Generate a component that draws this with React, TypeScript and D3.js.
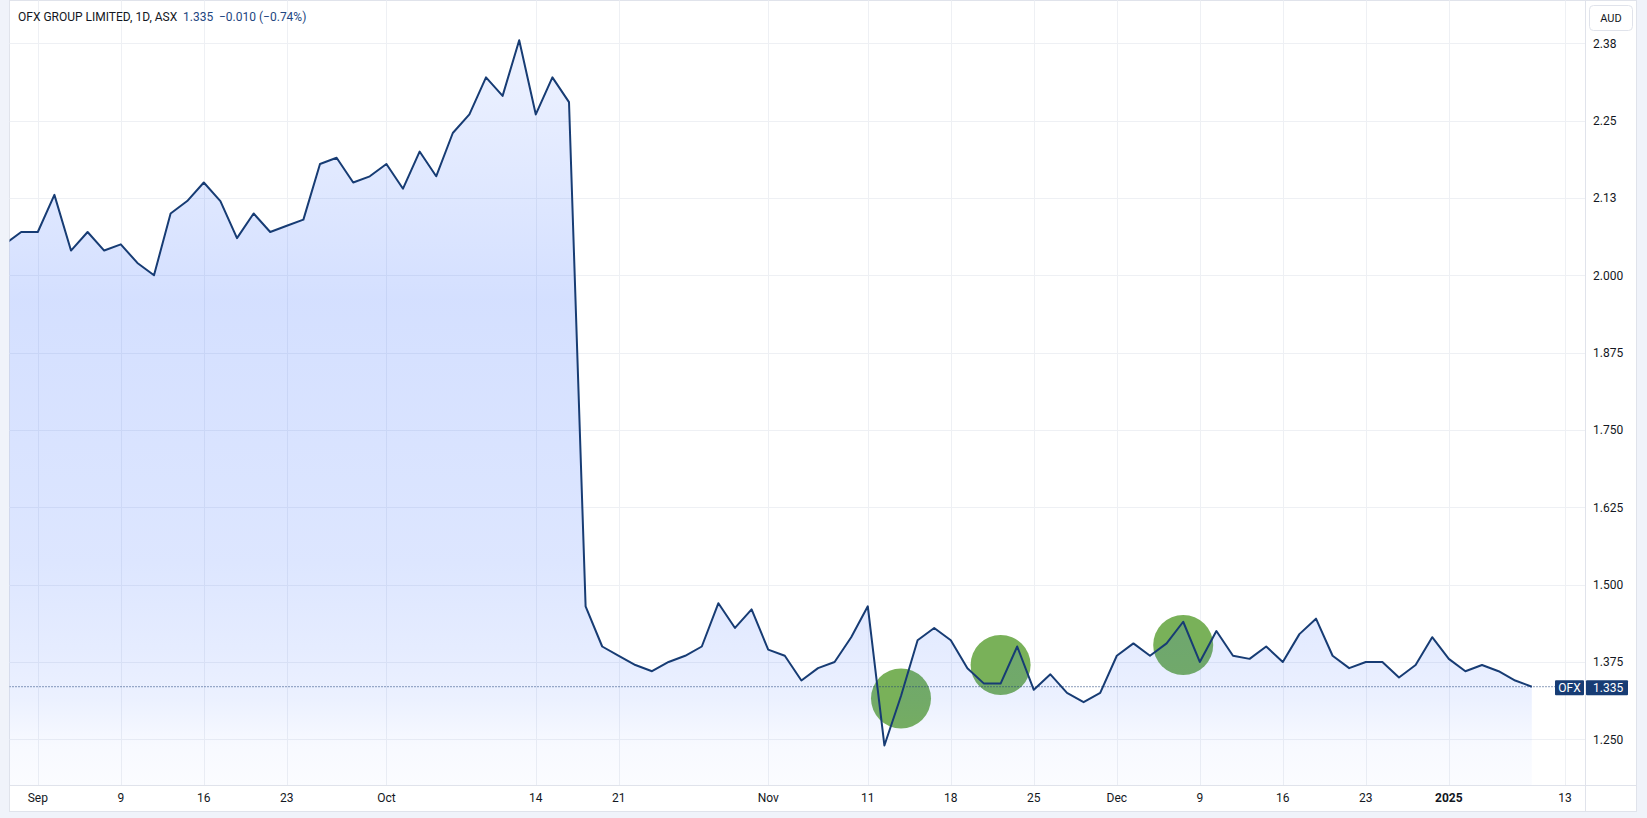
import React from "react";
import * as d3 from "d3";

// ---- data ----
const holidays = ["2024-12-25", "2024-12-26", "2025-01-01"];
const fmt = d3.timeFormat("%Y-%m-%d");
const sessionDates: string[] = d3.timeDay
  .range(new Date(2024, 7, 29), new Date(2025, 0, 18))
  .filter((d) => d.getDay() !== 0 && d.getDay() !== 6)
  .map((d) => fmt(d))
  .filter((s) => !holidays.includes(s));

const prices: number[] = [
  2.05, 2.07, 2.07, 2.13, 2.04, 2.07, 2.04, 2.05, 2.02, 2.0, 2.1, 2.12, 2.15,
  2.12, 2.06, 2.1, 2.07, 2.08, 2.09, 2.18, 2.19, 2.15, 2.16, 2.18, 2.14, 2.2,
  2.16, 2.23, 2.26, 2.32, 2.29, 2.38, 2.26, 2.32, 2.28, 1.465, 1.4, 1.385,
  1.37, 1.36, 1.375, 1.385, 1.4, 1.47, 1.43, 1.46, 1.395, 1.385, 1.345, 1.365,
  1.375, 1.415, 1.465, 1.24, 1.32, 1.41, 1.43, 1.41, 1.365, 1.34, 1.34, 1.4,
  1.33, 1.355, 1.325, 1.31, 1.325, 1.385, 1.405, 1.385, 1.405, 1.44, 1.375,
  1.425, 1.385, 1.38, 1.4, 1.375, 1.42, 1.445, 1.385, 1.365, 1.375, 1.375,
  1.35, 1.37, 1.415, 1.38, 1.36, 1.37, 1.36, 1.345, 1.335,
];

const priceTicks = [2.375, 2.25, 2.125, 2.0, 1.875, 1.75, 1.625, 1.5, 1.375, 1.25];
const priceTickLabels = ["2.38", "2.25", "2.13", "2.000", "1.875", "1.750", "1.625", "1.500", "1.375", "1.250"];

const timeTickDates = [
  "2024-09-02", "2024-09-09", "2024-09-16", "2024-09-23", "2024-10-01",
  "2024-10-14", "2024-10-21", "2024-11-01", "2024-11-11", "2024-11-18",
  "2024-11-25", "2024-12-02", "2024-12-09", "2024-12-16", "2024-12-23",
  "2025-01-02", "2025-01-13",
];
const timeTickLabels = ["Sep", "9", "16", "23", "Oct", "14", "21", "Nov", "11", "18", "25", "Dec", "9", "16", "23", "2025", "13"];
const timeTickBold = [false, false, false, false, false, false, false, false, false, false, false, false, false, false, false, true, false];

const markerDates = ["2024-11-13", "2024-11-21", "2024-12-06"];
const markerValues = [1.316, 1.37, 1.4025];

const lastPrice = 1.335;
const symbol = "OFX";

// ---- layout ----
const W = 1647;
const H = 818;
const plotLeft = 9.5;
const plotRight = 1585;
const plotTop = 0.5;
const plotBottom = 785;

export default function App() {
  const idx0 = sessionDates.indexOf("2024-09-02");
  const x = d3.scaleLinear().domain([0, 90]).range([37.8, 1531.8]);
  const xd = (s: string) => x(sessionDates.indexOf(s) - idx0);
  const y = d3.scaleLinear().domain([1.25, 2.375]).range([739.3, 43.3]);

  const pts: [number, number][] = prices.map((p, i) => [x(i - idx0), y(p)]);
  const line = d3.line<[number, number]>().x((d) => d[0]).y((d) => d[1])(pts) || "";
  const area =
    d3
      .area<[number, number]>()
      .x((d) => d[0])
      .y0(plotBottom)
      .y1((d) => d[1])(pts) || "";

  const navy = "#173c74";
  const font = "Roboto, 'Liberation Sans', sans-serif";
  const yLast = y(lastPrice);

  const gradStops: [number, number][] = [
    [40, 0.08],
    [300, 0.2],
    [560, 0.16],
    [650, 0.12],
    [700, 0.09],
    [745, 0.035],
    [785, 0.02],
  ];

  return (
    <svg
      width={W}
      height={H}
      style={{ position: "absolute", left: 0, top: 0, display: "block" }}
      fontFamily={font}
    >
      <defs>
        <clipPath id="plotClip">
          <rect x={plotLeft} y={plotTop} width={plotRight - plotLeft} height={plotBottom - plotTop} />
        </clipPath>
        <linearGradient id="areaGrad" gradientUnits="userSpaceOnUse" x1={0} x2={0} y1={0} y2={H}>
          {gradStops.map(([yy, a], i) => (
            <stop key={i} offset={yy / H} stopColor="rgb(41,98,255)" stopOpacity={a} />
          ))}
        </linearGradient>
      </defs>
      <rect x={0} y={0} width={W} height={H} fill="#f0f3fa" />
      <rect x={9.5} y={0.5} width={1627} height={811} fill="#ffffff" stroke="#e0e3eb" />

      {/* grid */}
      <g stroke="#eef0f4" strokeWidth={1}>
        {priceTicks.map((t, i) => (
          <line key={"h" + i} x1={plotLeft} x2={plotRight} y1={Math.round(y(t)) + 0.5} y2={Math.round(y(t)) + 0.5} />
        ))}
        {timeTickDates.map((d, i) => (
          <line key={"v" + i} x1={Math.round(xd(d)) + 0.5} x2={Math.round(xd(d)) + 0.5} y1={plotTop} y2={plotBottom} />
        ))}
      </g>

      <g clipPath="url(#plotClip)">
        {markerDates.map((d, i) => (
          <circle key={i} cx={xd(d)} cy={y(markerValues[i])} r={30} fill="#79b159" />
        ))}
        <path d={area} fill="url(#areaGrad)" />
        <path d={line} fill="none" stroke={navy} strokeWidth={2} strokeLinejoin="round" />
        <line x1={plotLeft} x2={1555} y1={yLast} y2={yLast} stroke={navy} strokeWidth={1} strokeDasharray="1,2" />
      </g>

      {/* axes borders */}
      <line x1={plotRight + 0.5} x2={plotRight + 0.5} y1={0} y2={811.5} stroke="#e0e3eb" />
      <line x1={plotLeft} x2={1636.5} y1={plotBottom + 0.5} y2={plotBottom + 0.5} stroke="#e0e3eb" />

      {/* price labels */}
      {priceTicks.map((t, i) => (
        <text key={"pl" + i} x={1593} y={y(t)} dy="0.35em" fontSize={12} fill="#131722">
          {priceTickLabels[i]}
        </text>
      ))}

      {/* time labels */}
      {timeTickDates.map((d, i) => (
        <text
          key={"tl" + i}
          x={xd(d)}
          y={802}
          textAnchor="middle"
          fontSize={12}
          fontWeight={timeTickBold[i] ? 700 : 400}
          fill="#131722"
        >
          {timeTickLabels[i]}
        </text>
      ))}

      {/* last price labels */}
      <rect x={1555} y={yLast - 6.5} width={29} height={15} rx={1} fill={navy} />
      <text x={1569.5} y={yLast + 1} dy="0.35em" textAnchor="middle" fontSize={12} fill="#ffffff">
        {symbol}
      </text>
      <rect x={1586} y={yLast - 6.5} width={42} height={15} rx={1} fill={navy} />
      <text x={1593} y={yLast + 1} dy="0.35em" fontSize={12} fill="#ffffff">
        {lastPrice.toFixed(3)}
      </text>

      {/* currency box */}
      <rect x={1589.5} y={5.5} width={43} height={25} rx={4} fill="#ffffff" stroke="#e0e3eb" />
      <text x={1611} y={18.5} dy="0.35em" textAnchor="middle" fontSize={11} fill="#131722">
        AUD
      </text>

      {/* header */}
      <text x={18} y={17} dy="0.35em" fontSize={12} fill="#131722">
        OFX GROUP LIMITED, 1D, ASX
      </text>
      <text x={183} y={17} dy="0.35em" fontSize={12} fill="#22467f">
        {lastPrice.toFixed(3)}
      </text>
      <text x={219} y={17} dy="0.35em" fontSize={12} fill="#22467f">
        −0.010
      </text>
      <text x={259} y={17} dy="0.35em" fontSize={12} fill="#22467f">
        (−0.74%)
      </text>
    </svg>
  );
}
